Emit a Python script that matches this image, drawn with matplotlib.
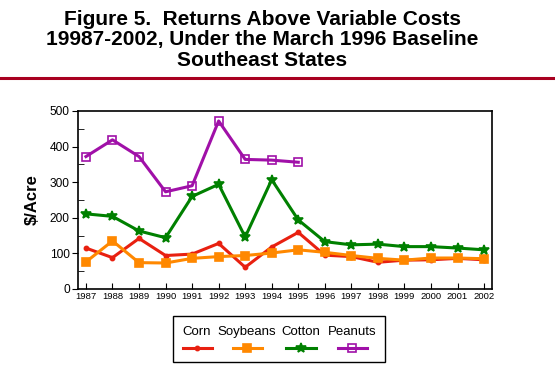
import matplotlib
matplotlib.use("Agg")
import matplotlib.pyplot as plt
from matplotlib.lines import Line2D
from matplotlib.patches import Rectangle
from matplotlib.ticker import MultipleLocator

plt.rcParams['font.family'] = ['Liberation Sans', 'DejaVu Sans']

years = list(range(1987, 2003))
corn = [115, 88, 142, 94, 98, 128, 61, 118, 159, 95, 91, 75, 81, 82, 86, 82]
soybeans = [76, 135, 74, 73, 86, 91, 94, 101, 110, 103, 94, 86, 81, 87, 87, 85]
cotton = [211, 204, 163, 144, 260, 294, 146, 307, 194, 133, 124, 126, 119, 119, 115, 110]
peanut_years = list(range(1987, 1996))
peanuts = [372, 419, 372, 273, 290, 472, 364, 362, 356]

fig = plt.figure(figsize=(5.55, 3.85), dpi=100)
ax = fig.add_axes([0.1405, 0.2494, 0.746, 0.4623])

# series styles: (label, x, y, colour, marker, size, filled)
series = [
    ("Corn", years, corn, "#E82010", "o", 3, True),
    ("Soybeans", years, soybeans, "#FF8800", "s", 5.5, True),
    ("Cotton", years, cotton, "#008000", "*", 7.5, True),
    ("Peanuts", peanut_years, peanuts, "#A010A8", "s", 6, False),
]
for lab, x, y, c, m, ms, filled in series:
    ax.plot(x, y, color=c, lw=2.2, marker=m, ms=ms,
            mfc=c if filled else "none", mec=c, mew=1.2)

ax.set_xlim(1986.7, 2002.3)
ax.set_ylim(0, 500)
ax.set_xticks(years)
ax.set_xticklabels([str(y) for y in years], fontsize=6.8)
ax.yaxis.set_major_locator(MultipleLocator(100))
ax.yaxis.set_minor_locator(MultipleLocator(50))
ax.tick_params(axis='y', which='major', direction='out', length=4, labelsize=8.6, pad=2)
ax.tick_params(axis='y', which='minor', direction='in', length=4)
ax.tick_params(axis='x', direction='in', length=4, pad=2)
for s in ax.spines.values():
    s.set_linewidth(1.2)
ax.set_ylabel("$/Acre", fontsize=12, fontweight='bold', labelpad=7)

# title and rule
fig.text(262/555, 1 - 40/385, "Figure 5.  Returns Above Variable Costs\n"
         "19987-2002, Under the March 1996 Baseline\nSoutheast States",
         ha='center', va='center', fontsize=15, fontweight='bold',
         linespacing=1.08)
fig.add_artist(Line2D([0, 1], [1 - 78/385] * 2, color="#A80020", lw=2.2))

# legend box drawn by hand: labels above line samples
W, H = 555.0, 385.0
fig.add_artist(Rectangle((173/W, 1 - 362/H), 212/W, 46/H, fill=False,
                         lw=1.0, ec='black', transform=fig.transFigure))
centers = [197, 247, 301, 352]
for (lab, x, y, c, m, ms, filled), cx in zip(series, centers):
    fig.text(cx/W, 1 - 332/H, lab, ha='center', va='center', fontsize=9.5)
    fig.add_artist(Line2D([(cx - 14.5)/W, (cx + 14.5)/W], [1 - 348/H] * 2,
                          color=c, lw=2.2))
    fig.add_artist(Line2D([cx/W], [1 - 348/H], color=c, marker=m, ms=ms,
                          mfc=c if filled else "none", mec=c, mew=1.2))

fig.savefig("out.png", dpi=100)
